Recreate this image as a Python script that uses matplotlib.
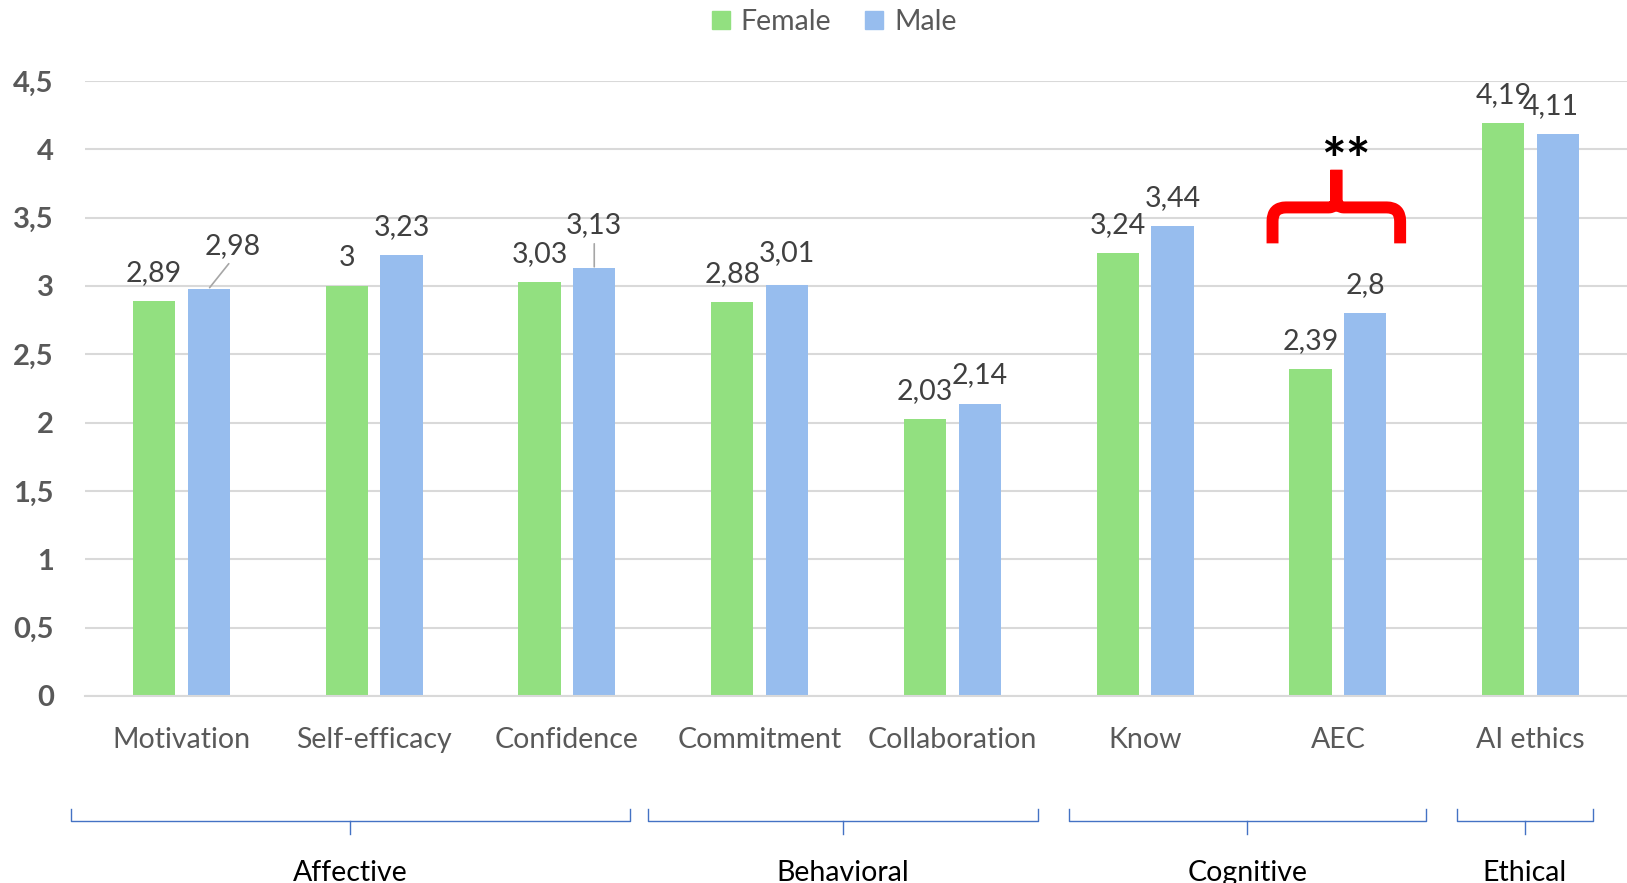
import matplotlib
matplotlib.use("Agg")
import matplotlib.pyplot as plt
import matplotlib.transforms as mtransforms
from matplotlib.path import Path
from matplotlib.patches import PathPatch
from matplotlib.lines import Line2D
import numpy as np

plt.rcParams['font.family'] = ['Lato', 'DejaVu Sans']

# mean scores by gender
categories = ['Motivation', 'Self-efficacy', 'Confidence', 'Commitment',
              'Collaboration', 'Know', 'AEC', 'AI ethics']
female = [2.89, 3.00, 3.03, 2.88, 2.03, 3.24, 2.39, 4.19]
male = [2.98, 3.23, 3.13, 3.01, 2.14, 3.44, 2.80, 4.11]
y_ticks = [0, 0.5, 1, 1.5, 2, 2.5, 3, 3.5, 4, 4.5]

# dimensions grouping the categories
groups = ['Affective', 'Behavioral', 'Cognitive', 'Ethical']
group_spans = [(-0.575, 2.326), (2.423, 4.442), (4.603, 6.456), (6.617, 7.322)]

# significant gender difference
sig_category = 'AEC'
sig_mark = '**'

GREEN = '#92E080'
BLUE = '#97BDEE'
GRID = '#D9D9D9'
TEXT = '#595959'
LABEL = '#404040'
FS = 20.5


def fmt(v):
    return f"{v:g}".replace('.', ',')


W, H = 1627, 883
fig = plt.figure(figsize=(W / 100, H / 100), dpi=100)
ax = fig.add_axes([85 / W, 187 / H, 1 - 85 / W, 615 / H])

x = np.arange(len(categories))
off, bw = 0.142, 0.22
ax.bar(x - off, female, width=bw, color=GREEN, zorder=2)
ax.bar(x + off, male, width=bw, color=BLUE, zorder=2)

ax.set_xlim(-0.5, len(categories) - 0.5)
ax.set_ylim(0, 4.5)
ax.set_yticks(y_ticks)
ax.set_yticklabels([fmt(t) for t in y_ticks], fontweight='bold', color=TEXT, fontsize=FS + 0.5)
ax.set_xticks(x)
ax.set_xticklabels(categories, color=TEXT, fontsize=FS)
ax.tick_params(axis='y', length=0, pad=22.5)
ax.tick_params(axis='x', length=0, pad=22)
ax.yaxis.grid(True, color=GRID, lw=1.5, zorder=0)
ax.set_axisbelow(True)
for s in ['top', 'right', 'left']:
    ax.spines[s].set_visible(False)
ax.spines['bottom'].set_color(GRID)
ax.spines['bottom'].set_linewidth(1.5)

# value labels, a few nudged with leader lines
nudges = {('m', 0): (24, 43), ('m', 2): (0, 43), ('m', 3): (0, 32), ('m', 7): (-7, 28)}
leaders = {('m', 0), ('m', 2)}
for key, vals, dx in [('f', female, -off), ('m', male, off)]:
    for i, v in enumerate(vals):
        ox, oy = nudges.get((key, i), (0, 28))
        arrow = None
        if (key, i) in leaders:
            arrow = dict(arrowstyle='-', color='#A6A6A6', lw=1.2,
                         relpos=(0.5, 0), shrinkA=2, shrinkB=1)
        ax.annotate(fmt(v), xy=(i + dx, v), xytext=(ox, oy),
                    textcoords='offset pixels', ha='center', va='center',
                    color=LABEL, fontsize=FS, arrowprops=arrow, zorder=3)

# significance brace over AEC
k = categories.index(sig_category)
xl, xr, xc = k - 0.339, k + 0.323, k - 0.008
yb, yh, yt = 3.312, 3.575, 3.85
rx, ry = 0.07, 0.1
rx2, ry2 = 0.04, 0.06
verts, codes = [], []
for xe, sgn in [(xl, 1), (xr, -1)]:
    verts += [(xe, yb), (xe, yh - ry), (xe, yh), (xe + sgn * rx, yh),
              (xc - sgn * rx2, yh), (xc, yh), (xc, yh + ry2), (xc, yt)]
    codes += [Path.MOVETO, Path.LINETO, Path.CURVE3, Path.CURVE3,
              Path.LINETO, Path.CURVE3, Path.CURVE3, Path.LINETO]
ax.add_patch(PathPatch(Path(verts, codes), facecolor='none', edgecolor='#FF0000',
                       lw=8.6, capstyle='butt', joinstyle='round', clip_on=False, zorder=4))
ax.text(k + 0.039, 3.9, sig_mark, ha='center', va='center', fontsize=42,
        fontweight='bold', color='black', clip_on=False)

# group brackets below the category labels
trans = mtransforms.blended_transform_factory(ax.transData, fig.transFigure)
y_top, y_mid, y_bot = 1 - 809 / H, 1 - 821 / H, 1 - 834 / H
for name, (a, b) in zip(groups, group_spans):
    c = (a + b) / 2
    ax.plot([a, a, b, b], [y_top, y_mid, y_mid, y_top], color='#4472C4', lw=1,
            transform=trans, clip_on=False)
    ax.plot([c, c], [y_mid, y_bot], color='#4472C4', lw=1,
            transform=trans, clip_on=False)
    ax.text(c, 2 / H, name, ha='center', va='baseline', fontsize=FS,
            color='black', transform=trans)

handles = [Line2D([], [], marker='s', ls='', color=GREEN, markersize=12.5),
           Line2D([], [], marker='s', ls='', color=BLUE, markersize=12.5)]
fig.legend(handles, ['Female', 'Male'], loc='center', bbox_to_anchor=(833 / W, 1 - 22 / H),
           ncol=2, frameon=False, fontsize=FS, labelcolor=TEXT,
           handlelength=0.8, handletextpad=0.3, columnspacing=1.1)

fig.savefig('out.png', dpi=100)
